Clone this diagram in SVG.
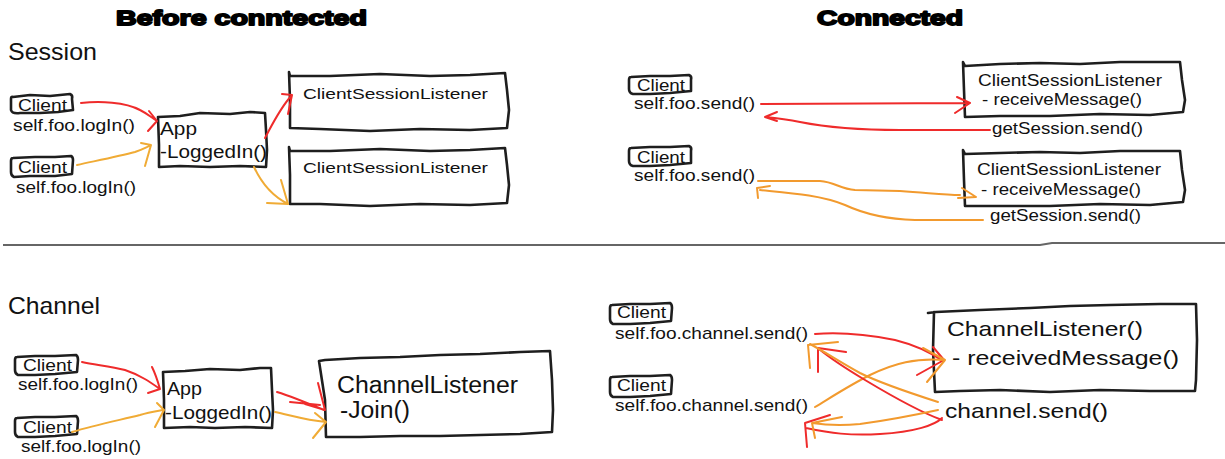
<svg xmlns="http://www.w3.org/2000/svg" width="1225" height="459" viewBox="0 0 1225 459">
<style>
.box{fill:none;stroke:#1e1e1e;stroke-width:2.6;stroke-linejoin:round;stroke-linecap:round}
.t{font-family:"Liberation Sans",Arial,sans-serif;fill:#111}
.h{font-family:"Liberation Sans",Arial,sans-serif;font-weight:bold;fill:#000;stroke:#000;stroke-width:1.8;stroke-linejoin:round}
.r{fill:none;stroke:#ef2b2b;stroke-width:2;stroke-linecap:round;stroke-linejoin:round}
.o{fill:none;stroke:#f0ab35;stroke-width:2;stroke-linecap:round;stroke-linejoin:round}
.o2{fill:none;stroke:#f29a2e;stroke-width:2;stroke-linecap:round;stroke-linejoin:round}
.div{fill:none;stroke:#666;stroke-width:2}
</style>
<rect width="1225" height="459" fill="#fff"/>

<g id="titles">
<text class="h" x="116" y="25" font-size="21" textLength="251" lengthAdjust="spacingAndGlyphs">Before conntected</text>
<text class="h" x="817" y="25" font-size="21" textLength="146" lengthAdjust="spacingAndGlyphs">Connected</text>
<text class="t" x="8" y="60" font-size="24" textLength="89" lengthAdjust="spacingAndGlyphs">Session</text>
<text class="t" x="8" y="314" font-size="24" textLength="92" lengthAdjust="spacingAndGlyphs">Channel</text>
<path class="div" d="M3,245 L1040,245 L1052,243 L1225,243"/>
</g>

<!-- Session, before -->
<g id="s-client1">
<path class="box" d="M13,97 L30,95 L50,96 L70,94 Q73,95 72,99 L73,110 L58,112 L40,113 L20,113 Q12,114 11,110 L11,99 Q11,96 13,97 Z"/>
<text class="t" x="18" y="111" font-size="16" textLength="49" lengthAdjust="spacingAndGlyphs">Client</text>
<text class="t" x="13" y="131" font-size="16" textLength="122" lengthAdjust="spacingAndGlyphs">self.foo.logIn()</text>
</g>
<g id="s-client2">
<path class="box" d="M13,158 L35,157 L55,157 L71,156 Q73,157 73,160 L72,174 L55,176 L30,176 L14,177 Q11,176 11,172 L11,161 Q11,158 13,158 Z"/>
<text class="t" x="18" y="173" font-size="16" textLength="49" lengthAdjust="spacingAndGlyphs">Client</text>
<text class="t" x="16" y="193" font-size="16" textLength="120" lengthAdjust="spacingAndGlyphs">self.foo.logIn()</text>
</g>
<g id="s-app">
<path class="box" d="M158,117 L180,116 L200,113 L230,114 L250,112 L265,113 L266,130 L267,150 L266,167 L240,166 L210,167 L180,166 L159,167 L159,145 Z"/>
<text class="t" x="160" y="135" font-size="18" textLength="37" lengthAdjust="spacingAndGlyphs">App</text>
<text class="t" x="160" y="158" font-size="18" textLength="107" lengthAdjust="spacingAndGlyphs">-LoggedIn()</text>
</g>
<g id="s-csl1">
<path class="box" d="M289,72 L290,76 L330,76 L380,74 L430,76 L470,75 L505,73 L507,90 L509,110 L507,128 L470,130 L420,129 L370,131 L320,129 L290,128 L290,100 Z"/>
<text class="t" x="303" y="99" font-size="15.5" textLength="185" lengthAdjust="spacingAndGlyphs">ClientSessionListener</text>
</g>
<g id="s-csl2">
<path class="box" d="M289,147 L290,151 L330,151 L380,149 L430,151 L470,150 L505,148 L507,165 L509,185 L507,203 L470,205 L420,204 L370,206 L320,204 L290,204 L290,175 Z"/>
<text class="t" x="303" y="173" font-size="15.5" textLength="185" lengthAdjust="spacingAndGlyphs">ClientSessionListener</text>
</g>

<!-- Session, connected -->
<g id="c-client1">
<path class="box" d="M631,77 L650,76 L670,76 L689,75 Q692,76 691,80 L691,91 L670,93 L650,94 L633,94 Q629,93 629,89 L629,80 Q629,77 631,77 Z"/>
<text class="t" x="637" y="91" font-size="16" textLength="48" lengthAdjust="spacingAndGlyphs">Client</text>
<text class="t" x="634" y="109" font-size="16" textLength="121" lengthAdjust="spacingAndGlyphs">self.foo.send()</text>
</g>
<g id="c-client2">
<path class="box" d="M631,148 L650,147 L670,147 L689,146 Q692,147 691,151 L691,163 L670,165 L650,166 L633,166 Q629,165 629,161 L629,151 Q629,148 631,148 Z"/>
<text class="t" x="637" y="163" font-size="16" textLength="48" lengthAdjust="spacingAndGlyphs">Client</text>
<text class="t" x="634" y="181" font-size="16" textLength="121" lengthAdjust="spacingAndGlyphs">self.foo.send()</text>
</g>
<g id="c-csl1">
<path class="box" d="M963,62 L965,66 L1000,64 L1040,63 L1080,64 L1120,62 L1180,62 L1182,80 L1185,100 L1183,112 L1150,115 L1100,114 L1050,116 L1000,116 L965,117 L964,90 Z"/>
<text class="t" x="978" y="86" font-size="16" textLength="184" lengthAdjust="spacingAndGlyphs">ClientSessionListener</text>
<text class="t" x="982" y="105" font-size="17" textLength="160" lengthAdjust="spacingAndGlyphs">- receiveMessage()</text>
</g>
<text class="t" x="992" y="134" font-size="17" textLength="151" lengthAdjust="spacingAndGlyphs">getSession.send()</text>
<g id="c-csl2">
<path class="box" d="M963,150 L965,154 L1000,153 L1040,152 L1080,153 L1120,151 L1180,151 L1182,170 L1185,190 L1183,202 L1150,205 L1100,204 L1050,206 L1000,206 L965,206 L964,180 Z"/>
<text class="t" x="977" y="175" font-size="16" textLength="184" lengthAdjust="spacingAndGlyphs">ClientSessionListener</text>
<text class="t" x="981" y="195" font-size="17" textLength="160" lengthAdjust="spacingAndGlyphs">- receiveMessage()</text>
</g>
<text class="t" x="990" y="221" font-size="17" textLength="151" lengthAdjust="spacingAndGlyphs">getSession.send()</text>

<!-- Channel, before -->
<g id="ch-client1">
<path class="box" d="M17,357 L35,356 L55,356 L76,355 Q78,356 78,360 L77,372 L55,374 L35,375 L18,375 Q15,374 15,370 L15,360 Q15,357 17,357 Z"/>
<text class="t" x="23" y="371" font-size="16" textLength="49" lengthAdjust="spacingAndGlyphs">Client</text>
<text class="t" x="18" y="390" font-size="16" textLength="120" lengthAdjust="spacingAndGlyphs">self.foo.logIn()</text>
</g>
<g id="ch-client2">
<path class="box" d="M17,418 L35,417 L55,417 L76,416 Q78,417 78,421 L77,434 L55,436 L35,437 L18,437 Q15,436 15,432 L15,421 Q15,418 17,418 Z"/>
<text class="t" x="23" y="433" font-size="16" textLength="49" lengthAdjust="spacingAndGlyphs">Client</text>
<text class="t" x="21" y="452" font-size="16" textLength="120" lengthAdjust="spacingAndGlyphs">self.foo.logIn()</text>
</g>
<g id="ch-app">
<path class="box" d="M163,372 L185,371 L210,369 L240,370 L260,368 L271,368 L272,390 L273,410 L272,428 L245,427 L215,428 L190,427 L164,428 L164,400 Z"/>
<text class="t" x="167" y="395" font-size="19" textLength="35" lengthAdjust="spacingAndGlyphs">App</text>
<text class="t" x="165" y="419" font-size="19" textLength="107" lengthAdjust="spacingAndGlyphs">-LoggedIn()</text>
</g>
<g id="ch-listener">
<path class="box" d="M319,361 L325,360 L360,358 L400,357 L440,355 L480,354 L520,352 L550,351 L552,380 L553,410 L552,432 L520,434 L480,435 L440,436 L400,436 L360,437 L326,437 L325,400 Z"/>
<text class="t" x="337" y="393" font-size="23" textLength="181" lengthAdjust="spacingAndGlyphs">ChannelListener</text>
<text class="t" x="340" y="418" font-size="23" textLength="70" lengthAdjust="spacingAndGlyphs">-Join()</text>
</g>

<!-- Channel, connected -->
<g id="cc-client1">
<path class="box" d="M612,305 L630,304 L650,304 L670,303 Q672,304 672,308 L671,321 L650,323 L630,324 L613,324 Q610,323 610,319 L610,308 Q610,305 612,305 Z"/>
<text class="t" x="617" y="318" font-size="16" textLength="49" lengthAdjust="spacingAndGlyphs">Client</text>
<text class="t" x="615" y="339" font-size="17" textLength="193" lengthAdjust="spacingAndGlyphs">self.foo.channel.send()</text>
</g>
<g id="cc-client2">
<path class="box" d="M612,377 L630,376 L650,376 L670,375 Q672,376 672,380 L671,394 L650,396 L630,397 L613,397 Q610,396 610,392 L610,380 Q610,377 612,377 Z"/>
<text class="t" x="617" y="391" font-size="16" textLength="49" lengthAdjust="spacingAndGlyphs">Client</text>
<text class="t" x="615" y="411" font-size="17" textLength="193" lengthAdjust="spacingAndGlyphs">self.foo.channel.send()</text>
</g>
<g id="cc-listener">
<path class="box" d="M928,313 L936,312 L980,310 L1030,308 L1070,306 L1110,305 L1160,304 L1196,304 L1197,340 L1196,380 L1195,391 L1150,391 L1100,390 L1050,392 L1000,390 L960,391 L935,392 L933,350 L934,312"/>
<text class="t" x="947" y="336" font-size="21" textLength="196" lengthAdjust="spacingAndGlyphs">ChannelListener()</text>
<text class="t" x="952" y="365" font-size="21" textLength="227" lengthAdjust="spacingAndGlyphs">- receivedMessage()</text>
</g>
<text class="t" x="945" y="418" font-size="21" textLength="163" lengthAdjust="spacingAndGlyphs">channel.send()</text>

<g id="connectors">
<!-- session before -->
<path class="r" d="M81,103 C100,101 125,102 140,110 C148,114 152,118 157,121 M149,111 L157,121 L148,131"/>
<path class="o" d="M77,165 C100,160 120,156 135,152 C143,149 148,147 151,145 M141,143 L151,145 L145,166"/>
<path class="r" d="M265,138 C272,125 280,108 292,95 M282,94 L292,95 L288,114"/>
<path class="o" d="M254,167 C260,180 270,195 288,204 M281,180 L288,204 L267,203"/>
<!-- session connected -->
<path class="r" d="M761,104 L969,103 M957,97 L970,103 L955,113"/>
<path class="r" d="M990,130 L900,130 C860,130 830,128 800,122 C785,119 775,118 765,117 M777,112 L765,117 L777,121"/>
<path class="o2" d="M758,181 L820,181 C835,182 840,189 855,190 L900,191 C930,193 945,195 960,195 M962,188 L976,197 L958,198"/>
<path class="o2" d="M983,220 L915,220 C880,219 860,212 845,205 C820,195 790,193 760,190 M770,186 L757,188 L758,198"/>
<!-- channel before -->
<path class="r" d="M82,362 C95,365 110,366 125,370 C140,375 150,382 160,389 M152,367 C156,375 158,382 160,389 L148,393"/>
<path class="o" d="M72,432 C95,425 120,420 140,415 C150,412 158,411 163,410 M157,403 L164,410 L155,427"/>
<path class="r" d="M277,392 C290,396 305,402 324,410 M290,402 L320,405 M318,383 L325,410 L305,404"/>
<path class="o" d="M275,412 C290,415 305,420 326,422 M315,413 L326,422 L313,438"/>
<!-- channel connected -->
<path class="r" d="M815,334 C840,332 870,335 895,340 C915,345 930,352 943,361 M933,347 L944,360 L917,375"/>
<path class="o2" d="M815,407 C830,398 850,385 870,375 C895,363 915,358 945,360 M923,348 L945,360 L927,382"/>
<path class="r" d="M942,420 C920,412 890,395 865,380 C845,368 830,358 819,349 M818,372 L818,348 L846,352"/>
<path class="o2" d="M938,402 C910,393 880,383 860,373 C840,362 825,352 810,344 M838,342 L808,345 L810,368"/>
<path class="r" d="M942,418 C935,425 915,432 880,434 C850,436 830,433 806,428 M830,415 L805,423 L807,447"/>
<path class="o2" d="M938,410 C915,415 890,420 860,424 C840,426 825,425 812,423 M842,417 L812,423 L815,438"/>
</g>
</svg>
